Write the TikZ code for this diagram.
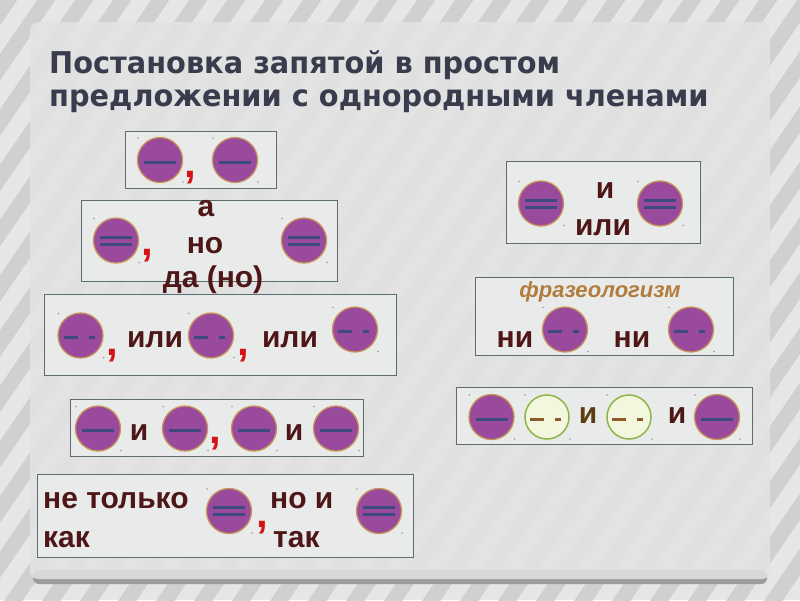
\documentclass[tikz,border=0pt]{standalone}
\usepackage{fontspec}
\setmainfont{Liberation Sans}
\newfontfamily\titlefont{DejaVu Sans}[FakeStretch=0.96]
\usepackage{xcolor}
\usepackage{tikz}
\usetikzlibrary{calc}

\definecolor{stripeA}{HTML}{E6E6E6}
\definecolor{stripeB}{HTML}{D0D0D0}
\definecolor{panelfill}{HTML}{E3E3E3}
\definecolor{panelshadow}{HTML}{9C9C9C}
\definecolor{boxfill}{HTML}{E9EBEA}
\definecolor{boxline}{HTML}{5D6C6C}
\definecolor{titlecol}{HTML}{393C4D}
\definecolor{wordcol}{HTML}{4E1616}
\definecolor{memfill}{HTML}{9A4A9C}
\definecolor{memline}{HTML}{C79559}
\definecolor{dashcol}{HTML}{3E4A7E}
\definecolor{advfill}{HTML}{F3F7DD}
\definecolor{advline}{HTML}{8DB548}
\definecolor{advdash}{HTML}{8B5A2B}
\definecolor{phrasecol}{HTML}{B27C3C}
\definecolor{commacol}{HTML}{D41414}
\definecolor{olivecol}{HTML}{5B3E10}

% marks inside the circles
\newcommand{\oneline}[1]{\draw[dashline] ($(#1)+(-16,2)$) -- ++(32,0);}
\newcommand{\twoline}[1]{%
  \draw[dashline] ($(#1)+(-16,-3.5)$) -- ++(32,0);
  \draw[dashline] ($(#1)+(-16,3.5)$) -- ++(32,0);}
\newcommand{\dotline}[2][dashcol]{%
  \draw[dashline, draw=#1] ($(#2)+(-17,2)$) -- ++(14,0);
  \draw[dashline, draw=#1] ($(#2)+(8,2)$) -- ++(6,0);}
\newcommand{\specks}[1]{%
  \fill[speck] ($(#1)+(-22,-22)$) circle (0.9);
  \fill[speck] ($(#1)+(23,22)$) circle (0.9);}

\begin{document}
\begin{tikzpicture}[
    x=1pt, y=-1pt,
    frame/.style={draw=boxline, line width=1, fill=boxfill},
    member/.style={circle, draw=memline, line width=1.3, fill=memfill,
                   minimum size=45, inner sep=0},
    adverb/.style={circle, draw=advline, line width=1.5, fill=advfill,
                   minimum size=44, inner sep=0},
    dashline/.style={draw=dashcol, line width=3},
    word/.style={font=\bfseries\fontsize{30}{32}\selectfont, text=wordcol,
                 inner sep=0, anchor=base},
    comma/.style={font=\bfseries\fontsize{42}{42}\selectfont, text=commacol,
                  inner sep=0, anchor=base},
    speck/.style={fill=gray!80},
  ]

  % Background stripes and panel
  \useasboundingbox (0,0) rectangle (800,600);
  \fill[stripeA] (0,0) rectangle (800,600);
  \begin{scope}
    \clip (0,0) rectangle (800,600);
    \foreach \k in {-12,...,22}
      \draw[stripeB, line width=15] (\k*38,620) -- ++(440,-640);
  \end{scope}
  \fill[panelshadow, rounded corners=6] (33,570) rectangle (767,584);
  \fill[panelfill, opacity=0.85, rounded corners=8] (30,22) rectangle (770,579);

  % Title
  \node[font=\titlefont\bfseries\fontsize{30}{34}\selectfont, text=titlecol,
        anchor=base west, inner sep=0] (title1) at (49,73)
    {Постановка запятой в простом};
  \node[font=\titlefont\bfseries\fontsize{30}{34}\selectfont, text=titlecol,
        anchor=base west, inner sep=0] (title2) at (49,106)
    {предложении с однородными членами};

  % Box 1
  \draw[frame] (125,131) rectangle (276,188);
  \node[member] (r1a) at (160,160) {}; \oneline{r1a} \specks{r1a}
  \node[comma] (r1k) at (190,177) {,};
  \node[member] (r1b) at (235,160) {}; \oneline{r1b} \specks{r1b}

  % Box 2
  \draw[frame] (81,200) rectangle (337,281);
  \node[member] (r2a) at (116,240.5) {}; \twoline{r2a} \specks{r2a}
  \node[comma] (r2k) at (147,255) {,};
  \node[word] (r2w1) at (206,216) {а};
  \node[word] (r2w2) at (205,253) {но};
  \node[word] (r2w3) at (213,287) {да (но)};
  \node[member] (r2b) at (304,240.5) {}; \twoline{r2b} \specks{r2b}

  % Box 3
  \draw[frame] (44,294) rectangle (396,375);
  \node[member] (r3a) at (80.5,335.5) {}; \dotline{r3a} \specks{r3a}
  \node[comma] (r3k1) at (112,355) {,};
  \node[word] (r3w1) at (155,347) {или};
  \node[member] (r3b) at (211,335.5) {}; \dotline{r3b} \specks{r3b}
  \node[comma] (r3k2) at (243,355) {,};
  \node[word] (r3w2) at (290,347) {или};
  \node[member] (r3c) at (355,329.5) {}; \dotline{r3c} \specks{r3c}

  % Box 4
  \draw[frame] (70,399) rectangle (363,456);
  \node[member] (r4a) at (98,428.5) {}; \oneline{r4a} \specks{r4a}
  \node[word] (r4w1) at (139,440) {и};
  \node[member] (r4b) at (185,428.5) {}; \oneline{r4b} \specks{r4b}
  \node[comma] (r4k) at (215,443) {,};
  \node[member] (r4c) at (254,428.5) {}; \oneline{r4c} \specks{r4c}
  \node[word] (r4w2) at (294,440) {и};
  \node[member] (r4d) at (336,428.5) {}; \oneline{r4d} \specks{r4d}

  % Box 5
  \draw[frame] (37,474) rectangle (413,557);
  \node[word, anchor=base west] (r5w1) at (43,508) {не только};
  \node[word, anchor=base west] (r5w2) at (43,547) {как};
  \node[member] (r5a) at (229,511) {}; \twoline{r5a} \specks{r5a}
  \node[comma] (r5k) at (262,527) {,};
  \node[word, anchor=base west] (r5w3) at (270,508) {но и};
  \node[word, anchor=base west] (r5w4) at (273,547) {так};
  \node[member] (r5b) at (379,511) {}; \twoline{r5b} \specks{r5b}

  % Box 6
  \draw[frame] (506,161) rectangle (700,243);
  \node[member] (r6a) at (541,203.5) {}; \twoline{r6a} \specks{r6a}
  \node[word] (r6w1) at (605,198) {и};
  \node[word] (r6w2) at (603,235) {или};
  \node[member] (r6b) at (660,203.5) {}; \twoline{r6b} \specks{r6b}

  % Box 7
  \draw[frame] (475,277) rectangle (733,355);
  \node[font=\bfseries\itshape\fontsize{22}{24}\selectfont, text=phrasecol,
        inner sep=0, anchor=base] (r7p) at (600,297) {фразеологизм};
  \node[word] (r7w1) at (515,347) {ни};
  \node[member] (r7a) at (565,329.5) {}; \dotline{r7a} \specks{r7a}
  \node[word] (r7w2) at (632,347) {ни};
  \node[member] (r7b) at (691,329.5) {}; \dotline{r7b} \specks{r7b}

  % Box 8
  \draw[frame] (456,387) rectangle (752,444);
  \node[member] (r8a) at (491.5,417) {}; \oneline{r8a} \specks{r8a}
  \node[adverb] (r8b) at (547,417) {}; \dotline[advdash]{r8b} \specks{r8b}
  \node[word, text=olivecol] (r8w1) at (588,423) {и};
  \node[adverb] (r8c) at (629,417) {}; \dotline[advdash]{r8c} \specks{r8c}
  \node[word] (r8w2) at (677,423) {и};
  \node[member] (r8d) at (717,417) {}; \oneline{r8d} \specks{r8d}

\end{tikzpicture}
\end{document}
